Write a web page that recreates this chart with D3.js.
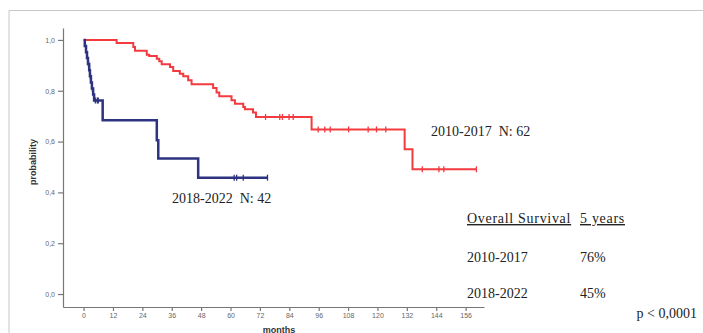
<!DOCTYPE html>
<html><head><meta charset="utf-8">
<script src="https://cdnjs.cloudflare.com/ajax/libs/d3/7.8.5/d3.min.js"></script>
<style>
html,body{margin:0;padding:0;background:#fff;}
svg{display:block;}
</style></head>
<body>
<svg id="c" width="703" height="333"></svg>
<script>
// ---- data ----
const xTicks = [0,12,24,36,48,60,72,84,96,108,120,132,144,156];
const yTicks = [0,0.2,0.4,0.6,0.8,1.0];

// 2010-2017 (N: 62): event times (months) and survival after each event
const redTimes = [13.5,20.3,21.0,25.8,26.8,29.9,30.9,31.9,35.3,36.6,39.3,40.7,42.7,44.1,52.9,54.3,55.4,60.4,61.8,65.2,65.9,69.2,70.4,93.1,131.1,134.3];
const redSurv  = [0.988,0.972,0.957,0.942,0.937,0.926,0.916,0.904,0.894,0.878,0.867,0.857,0.841,0.826,0.811,0.793,0.778,0.763,0.749,0.736,0.727,0.714,0.697,0.648,0.570,0.491];
const redCensor = [74.3,80.1,81.2,83.9,85.6,95.8,98.5,100.7,108.2,116.2,119.6,123.4,138.3,145.1,147.1,160.4];
const redEnd = 160.4;

// 2018-2022 (N: 42)
const blueTimes = [0.5,1.0,1.4,1.8,2.3,2.6,3.0,3.4,3.9,4.3,7.8,29.9,30.5,46.8];
const blueSurv  = [0.976,0.952,0.929,0.905,0.881,0.857,0.833,0.809,0.785,0.762,0.684,0.605,0.533,0.458];
const blueCensor = [2.0,2.8,3.6,4.8,5.6,6.0,61.5,62.5,65.2,75.1];
const blueEnd = 75.1;

const tableHeader = ["Overall Survival","5 years"];
const tableRows = [["2010-2017","76%"],["2018-2022","45%"]];

// ---- drawing ----
const svg = d3.select("#c");
// frame
svg.append("line").attr("x1",9).attr("x2",703).attr("y1",10.5).attr("y2",10.5).attr("stroke","#c8c8c8").attr("stroke-width",1);
svg.append("line").attr("x1",9).attr("x2",9).attr("y1",10.5).attr("y2",333).attr("stroke","#c8c8c8").attr("stroke-width",1);

const x = d3.scaleLinear().domain([-8.4,163.5]).range([63,484]);
const y = d3.scaleLinear().domain([-0.051,1.047]).range([307,28]);

const fmt = d => d3.format(".1f")(d).replace(".",",");
const gy = svg.append("g").attr("transform","translate(63,0)")
  .call(d3.axisLeft(y).tickValues(yTicks).tickFormat(fmt).tickSize(5).tickSizeOuter(0).tickPadding(3));
const gx = svg.append("g").attr("transform","translate(0,307)")
  .call(d3.axisBottom(x).tickValues(xTicks).tickSize(4).tickSizeOuter(0).tickPadding(2));
[gx,gy].forEach(g=>{
  g.selectAll("path,line").attr("stroke","#777").attr("stroke-width",1.2);
  g.selectAll("text").attr("fill","#666").style("font-family","Liberation Sans, Arial, sans-serif").style("font-size","7px");
});

svg.append("text").attr("transform","translate(36,162) rotate(-90)").attr("text-anchor","middle")
  .style("font-family","Liberation Sans, Arial, sans-serif").style("font-size","9px").style("font-weight","bold").attr("fill","#333").text("probability");
svg.append("text").attr("x",279).attr("y",332.5).attr("text-anchor","middle")
  .style("font-family","Liberation Sans, Arial, sans-serif").style("font-size","9px").style("font-weight","bold").attr("fill","#333").text("months");

function survAt(times, surv, t){
  let s = 1;
  for(let i=0;i<times.length;i++){ if(times[i] <= t) s = surv[i]; }
  return s;
}
function drawCurve(times, surv, censor, end, color, width){
  const pts = [[0,1]].concat(times.map((t,i)=>[t,surv[i]]));
  pts.push([end, surv[surv.length-1]]);
  const line = d3.line().x(d=>x(d[0])).y(d=>y(d[1])).curve(d3.curveStepAfter);
  svg.append("path").datum(pts).attr("d",line).attr("fill","none")
    .attr("stroke",color).attr("stroke-width",width).attr("stroke-linejoin","miter");
  svg.append("g").selectAll("line").data(censor).join("line")
    .attr("x1",d=>x(d)).attr("x2",d=>x(d))
    .attr("y1",d=>y(survAt(times,surv,d))-3).attr("y2",d=>y(survAt(times,surv,d))+3)
    .attr("stroke",color).attr("stroke-width",1.3);
}
drawCurve(redTimes, redSurv, redCensor, redEnd, "#f23a3f", 2);
drawCurve(blueTimes, blueSurv, blueCensor, blueEnd, "#2d3381", 2.5);

const serif = "Liberation Serif, Times New Roman, serif";
svg.append("text").attr("x",431).attr("y",136).style("font-family",serif).style("font-size","14px").attr("fill","#222")
  .attr("xml:space","preserve").text("2010-2017  N: 62");
svg.append("text").attr("x",172).attr("y",203).style("font-family",serif).style("font-size","14px").attr("fill","#222")
  .attr("xml:space","preserve").text("2018-2022  N: 42");

const colX = [467,580];
tableHeader.forEach((h,i)=>{
  svg.append("text").attr("x",colX[i]).attr("y",223).style("font-family",serif).style("font-size","14px")
    .style("letter-spacing","0.7px").attr("fill","#222").style("text-decoration","underline").text(h);
});
tableRows.forEach((r,j)=>{
  r.forEach((c,i)=>{
    svg.append("text").attr("x",colX[i]).attr("y",262+j*35.5).style("font-family",serif).style("font-size","14px")
      .attr("fill","#222").text(c);
  });
});
svg.append("text").attr("x",697).attr("y",318).attr("text-anchor","end").style("font-family",serif).style("font-size","14px")
  .attr("fill","#222").text("p < 0,0001");
</script>
</body></html>
